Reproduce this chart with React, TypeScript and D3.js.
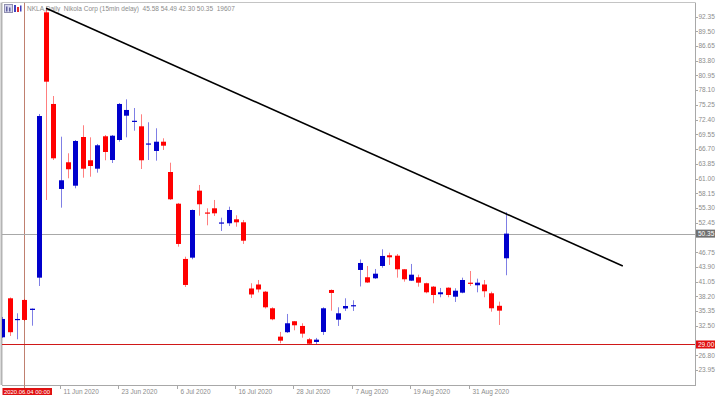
import React from "react";
import * as d3 from "d3";

// OHLC values, one per daily bar (left to right)
const opens = [30.30, 37.84, 33.65, 37.52, 35.58, 41.83, 93.16, 75.43, 58.99, 64.15,
  59.62, 69.04, 64.54, 62.91, 69.18, 64.59, 68.46, 73.16, 72.04, 71.11,
  67.71, 66.34, 68.13, 62.27, 56.14, 45.45, 45.70, 58.66, 54.44, 55.25,
  52.41, 52.35, 53.12, 52.54, 39.74, 40.51, 39.12, 35.91, 30.42, 31.28,
  33.40, 32.49, 29.91, 29.39, 31.33, 39.45, 33.70, 35.87, 36.45, 43.32,
  41.91, 41.71, 44.09, 46.16, 46.08, 43.45, 41.25, 41.91, 40.75, 40.09,
  38.62, 39.89, 38.15, 38.93, 40.86, 40.36, 40.51, 38.81, 36.39, 45.58];
const highs = [34.23, 38.00, 34.94, 37.71, 35.87, 73.49, 93.94, 76.97, 69.10, 65.89,
  68.46, 71.31, 68.98, 67.69, 69.43, 69.43, 75.62, 76.33, 74.65, 73.43,
  71.89, 70.73, 68.79, 64.07, 56.28, 45.89, 55.02, 59.76, 55.25, 56.86,
  53.43, 55.56, 53.90, 52.99, 40.75, 41.38, 39.26, 36.10, 31.33, 34.81,
  33.45, 33.01, 30.17, 30.17, 36.10, 39.55, 36.10, 37.84, 37.46, 45.35,
  44.09, 43.51, 47.32, 46.66, 46.41, 43.51, 44.48, 42.41, 40.86, 40.22,
  39.84, 39.97, 39.78, 41.83, 43.12, 41.64, 41.38, 39.12, 37.19, 54.49];
const lows = [30.17, 30.55, 29.91, 33.45, 32.54, 40.22, 56.86, 64.59, 55.37, 61.05,
  59.12, 61.17, 61.36, 62.14, 64.54, 64.01, 68.13, 68.98, 70.26, 62.85,
  64.59, 64.46, 66.53, 56.86, 47.82, 40.03, 45.39, 53.82, 51.96, 53.76,
  50.86, 51.83, 51.69, 48.35, 37.90, 38.97, 35.87, 33.59, 29.14, 31.13,
  31.65, 30.22, 28.95, 29.00, 30.75, 35.45, 32.49, 35.39, 35.39, 40.13,
  40.80, 41.58, 43.76, 44.29, 41.83, 41.06, 41.19, 40.09, 38.81, 36.88,
  38.04, 38.04, 37.13, 38.81, 40.22, 39.00, 38.04, 35.25, 32.68, 42.30];
const closes = [33.84, 31.28, 33.84, 33.65, 35.83, 73.10, 79.74, 64.92, 60.67, 62.80,
  68.27, 62.91, 63.43, 67.44, 66.14, 69.29, 75.43, 74.27, 72.18, 64.54,
  67.79, 68.13, 67.36, 56.99, 48.35, 40.42, 54.92, 56.03, 54.34, 54.28,
  52.51, 54.92, 52.54, 48.98, 38.58, 39.55, 36.10, 33.78, 29.64, 33.01,
  32.62, 31.00, 29.06, 29.84, 35.91, 38.87, 34.94, 36.35, 36.51, 44.67,
  40.90, 42.60, 46.03, 45.77, 43.45, 41.52, 42.41, 40.86, 39.00, 38.48,
  39.00, 38.48, 39.31, 41.38, 40.67, 40.86, 39.20, 35.91, 35.45, 50.35];

const xTickLabels = ["11 Jun 2020", "23 Jun 2020", "6 Jul 2020", "16 Jul 2020",
  "28 Jul 2020", "7 Aug 2020", "19 Aug 2020", "31 Aug 2020"];
const xTickBars = [8, 16, 24, 32, 40, 48, 56, 64];

const yTickLabels = ["92.35", "89.50", "86.65", "83.80", "80.95", "78.10", "75.25",
  "72.40", "69.55", "66.70", "63.85", "61.00", "58.15", "55.30", "52.45",
  "46.75", "43.90", "41.05", "38.20", "35.35", "32.50", "26.80", "23.95"];

const trendBars = [6, 85];
const trendValues = [93.94, 44.09];
const lastPrice = 50.35;
const supportLevel = 29.0;
const markerBar = 3;
const markerLabel = "2020.06.04 00:00";
const headerText = "NKLA,Daily  Nikola Corp (15min delay)  45.58 54.49 42.30 50.35  19607";

const W = 720;
const H = 396;
const FRAME_L = 2;
const FRAME_T = 2.5;
const FRAME_R = 695;
const FRAME_B = 385;
const BULL = "#0000cc";
const BEAR = "#ff0000";
const TXT = "#8c8c8c";
const FONT = "'Liberation Sans', Arial, sans-serif";

export default function App() {
  const x = d3.scaleLinear().domain([0, 69]).range([2.3, 506]);
  const y = d3.scaleLinear().domain([23.95, 92.35]).range([370.1, 16.5]);

  const trendLine = d3
    .line<number>()
    .x((_, i) => x(trendBars[i]))
    .y((d) => y(d));

  const candles = opens.map((o, i) => {
    const c = closes[i];
    const cx = Math.round(x(i));
    const bull = c >= o;
    const col = bull ? BULL : BEAR;
    const top = y(Math.max(o, c));
    const bot = y(Math.min(o, c));
    return (
      <g key={i}>
        <line x1={cx + 0.5} x2={cx + 0.5} y1={y(highs[i])} y2={y(lows[i])} stroke={col} strokeOpacity={0.5} strokeWidth={1} />
        <rect x={cx - 2} y={top} width={5} height={Math.max(1.2, bot - top)} fill={col} />
      </g>
    );
  });

  const yLast = y(lastPrice);
  const ySup = y(supportLevel);
  const xMark = Math.round(x(markerBar)) + 0.5;

  return (
    <svg width={W} height={H} style={{ position: "fixed", left: 0, top: 0, background: "#fff" }}>
      <rect x={0} y={0} width={W} height={H} fill="#fff" />
      <defs>
        <clipPath id="plot">
          <rect x={FRAME_L} y={FRAME_T} width={FRAME_R - FRAME_L} height={FRAME_B - FRAME_T} />
        </clipPath>
      </defs>

      {/* header */}
      <rect x={4.5} y={4.5} width={8} height={8} fill="#d8d8f0" stroke="#9090b0" strokeWidth={1} />
      <rect x={6} y={6.5} width={1.5} height={5} fill="#6060a0" />
      <rect x={9} y={7.5} width={1.5} height={4} fill="#6060a0" />
      <rect x={14} y={5} width={2} height={7} fill="#4040c0" />
      <rect x={17} y={7} width={2} height={5} fill="#e03030" />
      <rect x={20} y={5.5} width={1.5} height={6} fill="#4040c0" />
      <text x={27} y={11} fontFamily={FONT} fontSize={6.5} fill={TXT} style={{ whiteSpace: "pre" }}>
        {headerText}
      </text>

      {/* frame */}
      <line x1={FRAME_L - 0.5} x2={FRAME_L - 0.5} y1={FRAME_T} y2={FRAME_B} stroke="#b4b4b4" strokeWidth={2} />
      <line x1={FRAME_L} x2={FRAME_R} y1={FRAME_T} y2={FRAME_T} stroke="#c4c4c4" strokeWidth={1} />
      <line x1={FRAME_L} x2={FRAME_R} y1={FRAME_B + 0.5} y2={FRAME_B + 0.5} stroke="#a8a8a8" strokeWidth={1} />
      <line x1={FRAME_R + 0.5} x2={FRAME_R + 0.5} y1={FRAME_T} y2={FRAME_B + 1} stroke="#a8a8a8" strokeWidth={1} />

      <g clipPath="url(#plot)">
        {/* marker vertical line */}
        <line x1={xMark} x2={xMark} y1={FRAME_T} y2={H} stroke="#c08070" strokeWidth={1} />
        {/* last price line */}
        <line x1={FRAME_L} x2={FRAME_R} y1={Math.round(yLast) + 0.5} y2={Math.round(yLast) + 0.5} stroke="#a8a8a8" strokeWidth={1} />
        {/* support line */}
        <line x1={FRAME_L} x2={FRAME_R} y1={Math.round(ySup) + 0.5} y2={Math.round(ySup) + 0.5} stroke="#d01818" strokeWidth={1} />
        {candles}
        <path d={trendLine(trendValues) || ""} stroke="#000" strokeWidth={1.6} fill="none" />
      </g>
      <line x1={xMark} x2={xMark} y1={FRAME_B} y2={388} stroke="#c08070" strokeWidth={1} />

      {/* y axis */}
      {yTickLabels.map((t) => {
        const yy = y(+t);
        return (
          <g key={t}>
            <line x1={FRAME_R + 1} x2={FRAME_R + 3} y1={Math.round(yy) + 0.5} y2={Math.round(yy) + 0.5} stroke="#a8a8a8" />
            <text x={698.5} y={yy} dy="0.35em" fontFamily={FONT} fontSize={6.5} fill={TXT}>{t}</text>
          </g>
        );
      })}
      <rect x={696} y={yLast - 4} width={19} height={8} fill="#707070" />
      <text x={698} y={yLast} dy="0.35em" fontFamily={FONT} fontSize={6.5} fill="#fff">{lastPrice.toFixed(2)}</text>
      <rect x={696} y={ySup - 3.5} width={19} height={8} fill="#e01010" />
      <text x={698} y={ySup + 0.5} dy="0.35em" fontFamily={FONT} fontSize={6.5} fill="#fff">{supportLevel.toFixed(2)}</text>

      {/* x axis */}
      {xTickBars.map((b, i) => {
        const xx = Math.round(x(b)) - 0.5;
        return (
          <g key={b}>
            <line x1={xx} x2={xx} y1={FRAME_B + 1} y2={FRAME_B + 4} stroke="#a8a8a8" />
            <text x={xx + 3} y={393.5} fontFamily={FONT} fontSize={6.5} fill={TXT}>{xTickLabels[i]}</text>
          </g>
        );
      })}
      <rect x={2.5} y={388} width={49.5} height={7} fill="#e01010" />
      <text x={4} y={394} fontFamily={FONT} fontSize={6.2} fill="#fff" textLength={46} lengthAdjust="spacingAndGlyphs">{markerLabel}</text>
    </svg>
  );
}
